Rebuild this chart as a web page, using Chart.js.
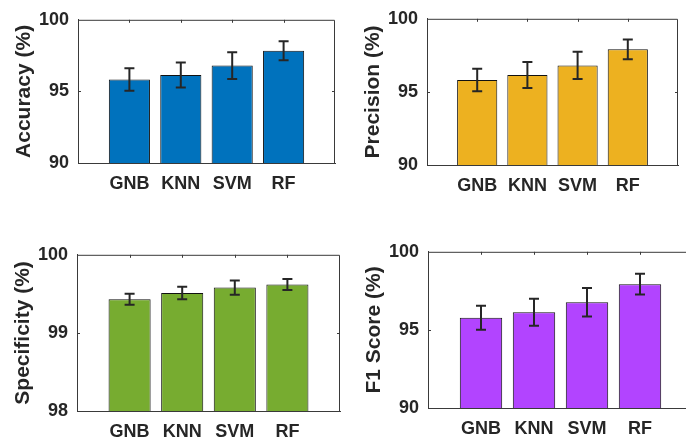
<!DOCTYPE html>
<html>
<head>
<meta charset="utf-8">
<script src="https://cdn.jsdelivr.net/npm/chart.js@4.4.1/dist/chart.umd.min.js"></script>
<style>
    html, body { margin: 0; padding: 0; background: #fff; overflow: hidden; }
    body { position: relative; width: 686px; height: 441px; }
    canvas { position: absolute; }
</style>
</head>
<body>
<script>
const categories = ['GNB', 'KNN', 'SVM', 'RF'];

const accuracy = [95.83, 96.14, 96.80, 97.84];
const accuracyErr = [0.78, 0.87, 0.93, 0.66];

const precision = [95.82, 96.15, 96.81, 97.91];
const precisionErr = [0.77, 0.89, 0.93, 0.68];

const specificity = [99.43, 99.51, 99.58, 99.62];
const specificityErr = [0.07, 0.08, 0.09, 0.07];

const f1Score = [95.78, 96.13, 96.77, 97.93];
const f1ScoreErr = [0.77, 0.87, 0.92, 0.66];

const yTicksWide = [90, 95, 100];
const yTicksNarrow = [98, 99, 100];

const AXIS_W = 78;
const AXIS_H = 40;
const PAD_TOP = 14;
const PAD_RIGHT = 8;
const FONT = "'Liberation Sans', Arial, sans-serif";
const INK = '#262626';

// plot-area boxes (left, top, right, bottom) for the 2x2 grid
const panels = [
    {title: 'Accuracy (%)', values: accuracy, errors: accuracyErr, yTicks: yTicksWide, color: '#0072BD', box: [78, 14, 335, 163]},
    {title: 'Precision (%)', values: precision, errors: precisionErr, yTicks: yTicksWide, color: '#EDB120', box: [427, 13, 678, 165]},
    {title: 'Specificity (%)', values: specificity, errors: specificityErr, yTicks: yTicksNarrow, color: '#77AC30', box: [77, 249, 340, 411]},
    {title: 'F1 Score (%)', values: f1Score, errors: f1ScoreErr, yTicks: yTicksWide, color: '#B244FF', box: [428, 246, 693, 408]},
];

// box outline, inward tick marks and error bars
const errorBarPlugin = {
    id: 'errorBars',
    afterDatasetsDraw(chart, args, opts) {
        const {ctx, chartArea: a, scales: {x, y}} = chart;
        ctx.save();
        ctx.strokeStyle = '#3a3a3a';
        ctx.lineWidth = 1;
        ctx.beginPath();
        ctx.moveTo(a.left, a.top + 0.5);
        ctx.lineTo(a.right - 0.5, a.top + 0.5);
        ctx.lineTo(a.right - 0.5, a.bottom);
        ctx.stroke();

        ctx.beginPath();
        categories.forEach((c, i) => {
            const px = Math.round(x.getPixelForValue(i + 1)) + 0.5;
            ctx.moveTo(px, a.top);
            ctx.lineTo(px, a.top + 3);
        });
        const midY = Math.round(y.getPixelForValue(opts.yTicks[1])) + 0.5;
        ctx.moveTo(a.right, midY);
        ctx.lineTo(a.right - 3, midY);
        ctx.moveTo(a.left, midY);
        ctx.lineTo(a.left + 3, midY);
        ctx.stroke();

        ctx.strokeStyle = INK;
        ctx.lineWidth = 2;
        ctx.beginPath();
        opts.values.forEach((v, i) => {
            const px = x.getPixelForValue(i + 1);
            const hi = y.getPixelForValue(v + opts.errors[i]);
            const lo = y.getPixelForValue(v - opts.errors[i]);
            ctx.moveTo(px, hi);
            ctx.lineTo(px, lo);
            ctx.moveTo(px - 5, hi);
            ctx.lineTo(px + 5, hi);
            ctx.moveTo(px - 5, lo);
            ctx.lineTo(px + 5, lo);
        });
        ctx.stroke();
        ctx.restore();
    }
};

function createPanel(panel) {
    const [l, t, r, b] = panel.box;
    const canvas = document.createElement('canvas');
    canvas.width = (r - l) + AXIS_W + PAD_RIGHT;
    canvas.height = (b - t) + PAD_TOP + AXIS_H;
    canvas.style.left = (l - AXIS_W) + 'px';
    canvas.style.top = (t - PAD_TOP) + 'px';
    document.body.appendChild(canvas);

    return new Chart(canvas, {
        type: 'bar',
        data: {
            datasets: [{
                data: panel.values.map((v, i) => ({x: i + 1, y: v})),
                backgroundColor: panel.color,
                borderColor: '#111',
                borderWidth: 1,
                barPercentage: 1,
                categoryPercentage: 0.8,
            }]
        },
        options: {
            responsive: false,
            devicePixelRatio: 1,
            animation: false,
            layout: {padding: {top: PAD_TOP, right: PAD_RIGHT, left: 0, bottom: 0}},
            plugins: {
                legend: {display: false},
                tooltip: {enabled: false},
                errorBars: {values: panel.values, errors: panel.errors, yTicks: panel.yTicks},
            },
            scales: {
                x: {
                    type: 'linear',
                    min: 0,
                    max: 5,
                    offset: false,
                    afterBuildTicks: s => { s.ticks = categories.map((c, i) => ({value: i + 1})); },
                    afterFit: s => { s.height = AXIS_H; },
                    grid: {display: false, drawTicks: false},
                    border: {color: '#3a3a3a', width: 1},
                    ticks: {
                        padding: 10,
                        color: INK,
                        font: {family: FONT, size: 18, weight: 'bold'},
                        callback: v => categories[v - 1],
                    },
                },
                y: {
                    min: panel.yTicks[0],
                    max: panel.yTicks[2],
                    afterBuildTicks: s => { s.ticks = panel.yTicks.map(v => ({value: v})); },
                    afterFit: s => { s.width = AXIS_W; },
                    grid: {display: false, drawTicks: false},
                    border: {color: '#3a3a3a', width: 1},
                    ticks: {
                        padding: 9,
                        color: INK,
                        font: {family: FONT, size: 18, weight: 'bold'},
                    },
                    title: {
                        display: true,
                        text: panel.title,
                        color: INK,
                        padding: {top: 12, bottom: 0},
                        font: {family: FONT, size: 21, weight: 'bold'},
                    },
                },
            },
        },
        plugins: [errorBarPlugin],
    });
}

panels.forEach(createPanel);
</script>
</body>
</html>
